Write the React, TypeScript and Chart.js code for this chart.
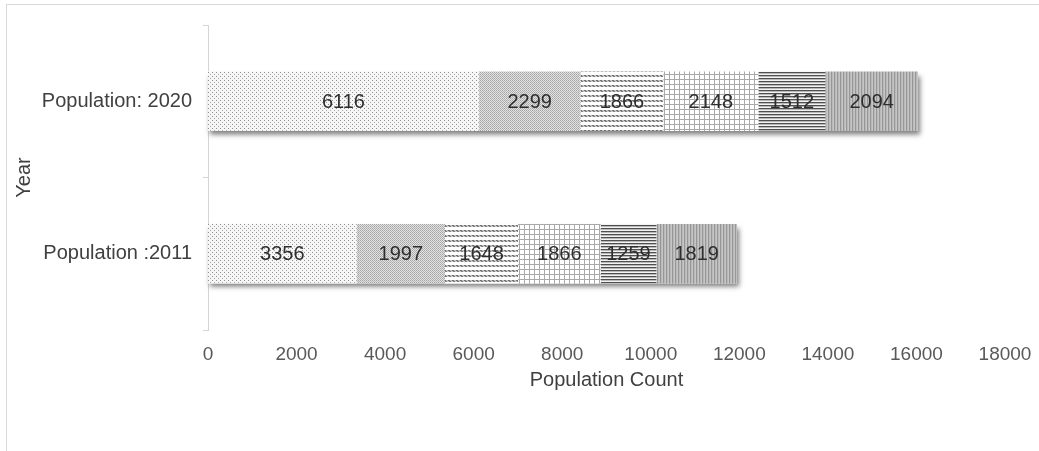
import React, { useEffect, useRef } from "react";
import { Chart, registerables } from "chart.js";

Chart.register(...registerables);

const categories = ["Population: 2020", "Population :2011"];
const group1 = [6116, 3356];
const group2 = [2299, 1997];
const group3 = [1866, 1648];
const group4 = [2148, 1866];
const group5 = [1512, 1259];
const group6 = [2094, 1819];
const seriesNames = ["Group 1", "Group 2", "Group 3", "Group 4", "Group 5", "Group 6"];
const xMin = 0;
const xMax = 18000;
const xStep = 2000;
const xTitle = "Population Count";
const yTitle = "Year";

const FONT = "'Liberation Sans', Arial, Helvetica, sans-serif";

function makePattern(w: number, h: number, paint: (c: CanvasRenderingContext2D) => void): CanvasPattern | string {
  const tile = document.createElement("canvas");
  tile.width = w;
  tile.height = h;
  const c = tile.getContext("2d");
  if (!c) return "#ccc";
  paint(c);
  return c.createPattern(tile, "repeat") || "#ccc";
}

function px(c: CanvasRenderingContext2D, x: number, y: number, color: string) {
  c.fillStyle = color;
  c.fillRect(x, y, 1, 1);
}

function buildPatterns() {
  const dots = makePattern(4, 4, (c) => {
    c.fillStyle = "#f6f6f6";
    c.fillRect(0, 0, 4, 4);
    px(c, 0, 0, "#8f8f8f");
    px(c, 2, 2, "#a8a8a8");
  });
  const checker = makePattern(2, 2, (c) => {
    c.fillStyle = "#e2e2e2";
    c.fillRect(0, 0, 2, 2);
    px(c, 0, 0, "#a4a4a4");
    px(c, 1, 1, "#b4b4b4");
  });
  const hatch = makePattern(4, 5, (c) => {
    c.fillStyle = "#ffffff";
    c.fillRect(0, 0, 4, 5);
    for (let x = 0; x < 4; x++) {
      px(c, x, 0, x < 2 ? "#727272" : "#c0c0c0");
      px(c, x, 1, x === 1 || x === 2 ? "#808080" : "#cacaca");
    }
  });
  const grid = makePattern(5, 5, (c) => {
    c.fillStyle = "#ffffff";
    c.fillRect(0, 0, 5, 5);
    c.fillStyle = "#a9a9a9";
    c.fillRect(4, 0, 1, 5);
    c.fillRect(0, 4, 5, 1);
  });
  const hlines = makePattern(1, 3, (c) => {
    px(c, 0, 0, "#4f4f4f");
    px(c, 0, 1, "#b9b9b9");
    px(c, 0, 2, "#f2f2f2");
  });
  const vlines = makePattern(3, 1, (c) => {
    px(c, 0, 0, "#969696");
    px(c, 1, 0, "#b9b9b9");
    px(c, 2, 0, "#c6c6c6");
  });
  return [dots, checker, hatch, grid, hlines, vlines];
}

const shadowPlugin = {
  id: "stackShadow",
  beforeDatasetsDraw(chart: any) {
    const ctx = chart.ctx as CanvasRenderingContext2D;
    const n = chart.data.datasets.length;
    const first = chart.getDatasetMeta(0);
    const last = chart.getDatasetMeta(n - 1);
    first.data.forEach((el: any, j: number) => {
      const endEl = last.data[j];
      const left = Math.min(el.base, el.x);
      const right = Math.max(endEl.x, endEl.base);
      const top = el.y - el.height / 2;
      ctx.save();
      ctx.shadowColor = "rgba(0,0,0,0.5)";
      ctx.shadowBlur = 5;
      ctx.shadowOffsetX = 2;
      ctx.shadowOffsetY = 4;
      ctx.fillStyle = "#ffffff";
      ctx.fillRect(left, top, right - left, el.height);
      ctx.restore();
    });
  },
};

const labelPlugin = {
  id: "segLabels",
  afterDatasetsDraw(chart: any) {
    const ctx = chart.ctx as CanvasRenderingContext2D;
    ctx.save();
    ctx.font = `20px ${FONT}`;
    ctx.fillStyle = "#2e2e2e";
    ctx.textAlign = "center";
    ctx.textBaseline = "middle";
    chart.data.datasets.forEach((ds: any, i: number) => {
      const meta = chart.getDatasetMeta(i);
      meta.data.forEach((el: any, j: number) => {
        const cx = (el.x + el.base) / 2;
        ctx.fillText(String(ds.data[j]), cx, el.y + 1);
      });
    });
    ctx.restore();
  },
};

export default function App() {
  const ref = useRef<HTMLCanvasElement | null>(null);

  useEffect(() => {
    if (!ref.current) return;
    const patterns = buildPatterns();
    const values = [group1, group2, group3, group4, group5, group6];
    const chart = new Chart(ref.current, {
      type: "bar",
      data: {
        labels: categories,
        datasets: values.map((v, i) => ({
          label: seriesNames[i],
          data: v,
          backgroundColor: patterns[i] as any,
          borderWidth: 0,
          barPercentage: 0.39,
          categoryPercentage: 1,
        })),
      },
      options: {
        indexAxis: "y",
        responsive: false,
        animation: false,
        maintainAspectRatio: false,
        layout: { padding: { top: 25, right: 34, left: 0, bottom: 0 } },
        plugins: {
          legend: { display: false },
          tooltip: { enabled: false },
        },
        scales: {
          x: {
            type: "linear",
            stacked: true,
            min: xMin,
            max: xMax,
            ticks: {
              stepSize: xStep,
              padding: 13,
              color: "#595959",
              font: { family: FONT, size: 19 },
              callback: (v: any) => String(v),
            },
            grid: { display: false, drawTicks: false },
            border: { display: false },
            title: {
              display: true,
              text: xTitle,
              color: "#404040",
              font: { family: FONT, size: 20 },
              padding: { top: 0, bottom: 59 },
            },
            afterFit: (s: any) => {
              s.height = 121;
              s.paddingRight = 0;
              s.paddingLeft = 0;
            },
          },
          y: {
            type: "category",
            stacked: true,
            ticks: {
              padding: 11,
              color: "#404040",
              font: { family: FONT, size: 20 },
            },
            grid: {
              display: true,
              drawOnChartArea: false,
              drawTicks: true,
              tickLength: 5,
              color: "#d4d4d4",
              offset: true,
            },
            border: { display: true, color: "#d4d4d4", width: 1 },
            title: {
              display: true,
              text: yTitle,
              color: "#404040",
              font: { family: FONT, size: 20 },
              padding: { top: 12, bottom: 0 },
            },
            afterFit: (s: any) => {
              s.width = 208;
            },
          },
        },
      } as any,
      plugins: [shadowPlugin, labelPlugin],
    });
    return () => chart.destroy();
  }, []);

  return (
    <div
      style={{
        position: "fixed",
        left: 0,
        top: 0,
        width: 1039,
        height: 451,
        background: "#ffffff",
        overflow: "hidden",
      }}
    >
      <div
        style={{
          position: "absolute",
          left: 6,
          top: 4,
          width: 1100,
          height: 500,
          border: "1px solid #d9d9d9",
          boxSizing: "border-box",
        }}
      />
      <canvas
        ref={ref}
        width={1039}
        height={451}
        style={{ position: "absolute", left: 0, top: 0, width: 1039, height: 451 }}
      />
    </div>
  );
}
